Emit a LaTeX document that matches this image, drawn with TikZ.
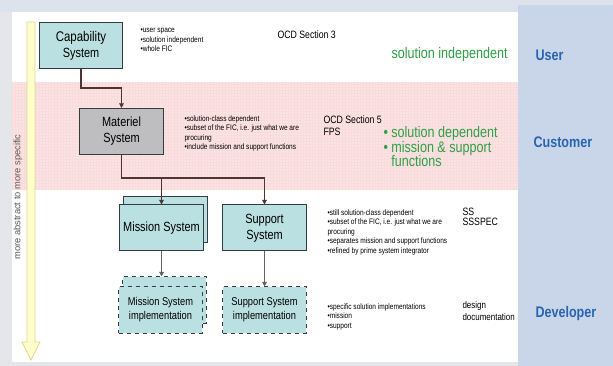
\documentclass[tikz,border=0pt]{standalone}
\usepackage{fontspec}
\setmainfont{Liberation Sans}[FakeStretch=0.82]
\newfontfamily\plainsans{Liberation Sans}
\usetikzlibrary{arrows.meta}

\definecolor{boxteal}{RGB}{187,224,225}
\definecolor{boxgray}{RGB}{190,190,192}
\definecolor{boxline}{RGB}{50,62,66}
\definecolor{bandpink}{RGB}{252,226,226}
\definecolor{gridpink}{RGB}{242,204,204}
\definecolor{solgreen}{RGB}{46,160,70}
\definecolor{roleblue}{RGB}{40,100,175}
\definecolor{sideblue}{RGB}{201,214,234}
\definecolor{frameblue}{RGB}{221,227,236}
\definecolor{framegray}{RGB}{228,230,234}
\definecolor{arrowyellow}{RGB}{255,255,204}
\definecolor{arrowedge}{RGB}{226,214,140}
\definecolor{linkdark}{RGB}{80,52,52}
\definecolor{linkgray}{RGB}{100,100,100}

\tikzset{every picture/.style={line width=0.75pt}}
\tikzset{
  sysbox/.style={draw=boxline, fill=boxteal, minimum width=62.5pt, minimum height=34.5pt,
    align=center, inner sep=1pt, font=\fontsize{10}{12}\selectfont},
  matbox/.style={sysbox, fill=boxgray},
  implbox/.style={sysbox, dashed, font=\fontsize{8.5}{10.5}\selectfont},
  notes/.style={anchor=north west, inner sep=0pt, align=left, font=\fontsize{6}{7.1}\selectfont},
  docref/.style={anchor=west, inner sep=0pt, align=left, font=\fontsize{8}{9}\selectfont},
  greentxt/.style={anchor=west, inner sep=0pt, align=left, text=solgreen, font=\fontsize{11.5}{11}\selectfont},
  role/.style={anchor=west, inner sep=0pt, text=roleblue, font=\fontsize{11.5}{13}\selectfont\bfseries},
  link/.style={draw=linkdark, line width=0.8pt, -{Triangle[length=3.5pt,width=3.5pt]}},
  linklow/.style={link, draw=linkgray}
}

\begin{document}
\begin{tikzpicture}[x=0.75pt,y=0.75pt,yscale=-1,xscale=1]
\useasboundingbox (0,0) rectangle (613,366);
% page frame
\fill[frameblue] (0,0) rectangle (613,366);
\fill[framegray] (0,12) rectangle (12,366);
\fill[white] (12,12) rectangle (518,362);
\fill[framegray] (12,362) rectangle (518,366);
\fill[sideblue] (518,5) rectangle (613,366);
% customer band
\fill[bandpink] (12,82) rectangle (518,190);
\draw[gridpink, line width=0.15pt, step=3, opacity=0.3] (12,82) grid (518,190);

% abstraction arrow
\draw[arrowedge, fill=arrowyellow, line width=0.6pt] (27,22) -- (35,22) -- (35,342) -- (40,342) -- (31,360) -- (22,342) -- (27,342) -- cycle;
\node[rotate=90, text=black!65, inner sep=0pt, font=\plainsans\fontsize{7}{8}\selectfont] (axis) at (18,197) {more abstract to more specific};

% boxes
\node[sysbox] (cap) at (81,45.5) {\fontsize{10.5}{12.5}\selectfont Capability\\System};
\node[matbox] (mat) at (121.5,131.5) {Materiel\\System};
\node[sysbox] (misB) at (165.5,220) {};
\node[sysbox] (mis) at (161.5,228) {Mission System};
\node[sysbox] (sup) at (264.5,228) {Support\\System};
\node[implbox] (misimplB) at (164.5,300) {};
\node[implbox] (misimpl) at (160.5,310) {Mission System\\implementation};
\node[implbox] (supimpl) at (264.5,310) {Support System\\implementation};

% connectors
\draw[link] (cap.south) -- ++(0,19) -| (mat.north);
\draw[link] (mat.south) -- ++(0,23) -| (mis.north);
\draw[link] (mat.south) -- ++(0,23) -| (sup.north);
\draw[linklow] (mis.south) -- (mis.south |- misimplB.north);
\draw[linklow] (sup.south) -- (supimpl.north);

% notes
\node[notes] (capnote) at (140,28) {•user space\\•solution independent\\•whole FIC};
\node[notes] (matnote) at (184,115) {•solution-class dependent\\•subset of the FIC, i.e. just what we are\\procuring\\•include mission and support functions};
\node[notes] (supnote) at (327,209) {•still solution-class dependent\\•subset of the FIC, i.e. just what we are\\procuring\\•separates mission and support functions\\•refined by prime system integrator};
\node[notes] (implnote) at (327,303) {•specific solution implementations\\•mission\\•support};

% document references
\node[docref] (ocd3) at (277,35) {OCD Section 3};
\node[docref, anchor=north west] (ocd5) at (323,115) {OCD Section 5\\FPS};
\node[docref, anchor=north west, font=\fontsize{8}{7.5}\selectfont] (ssspec) at (462,208) {SS\\SSSPEC};
\node[docref, anchor=north west, font=\fontsize{7.3}{9}\selectfont] (design) at (462,301) {design\\documentation};

% green remarks
\node[greentxt] (indep) at (391,55) {solution independent};
\node[greentxt, anchor=north west] (dep) at (383,126) {\textbullet\ solution dependent\\\textbullet\ mission \& support\\\phantom{\textbullet\ }functions};

% roles
\node[role] (user) at (535,55) {User};
\node[role] (customer) at (533,142) {Customer};
\node[role] (developer) at (535,314) {Developer};
\end{tikzpicture}
\end{document}
